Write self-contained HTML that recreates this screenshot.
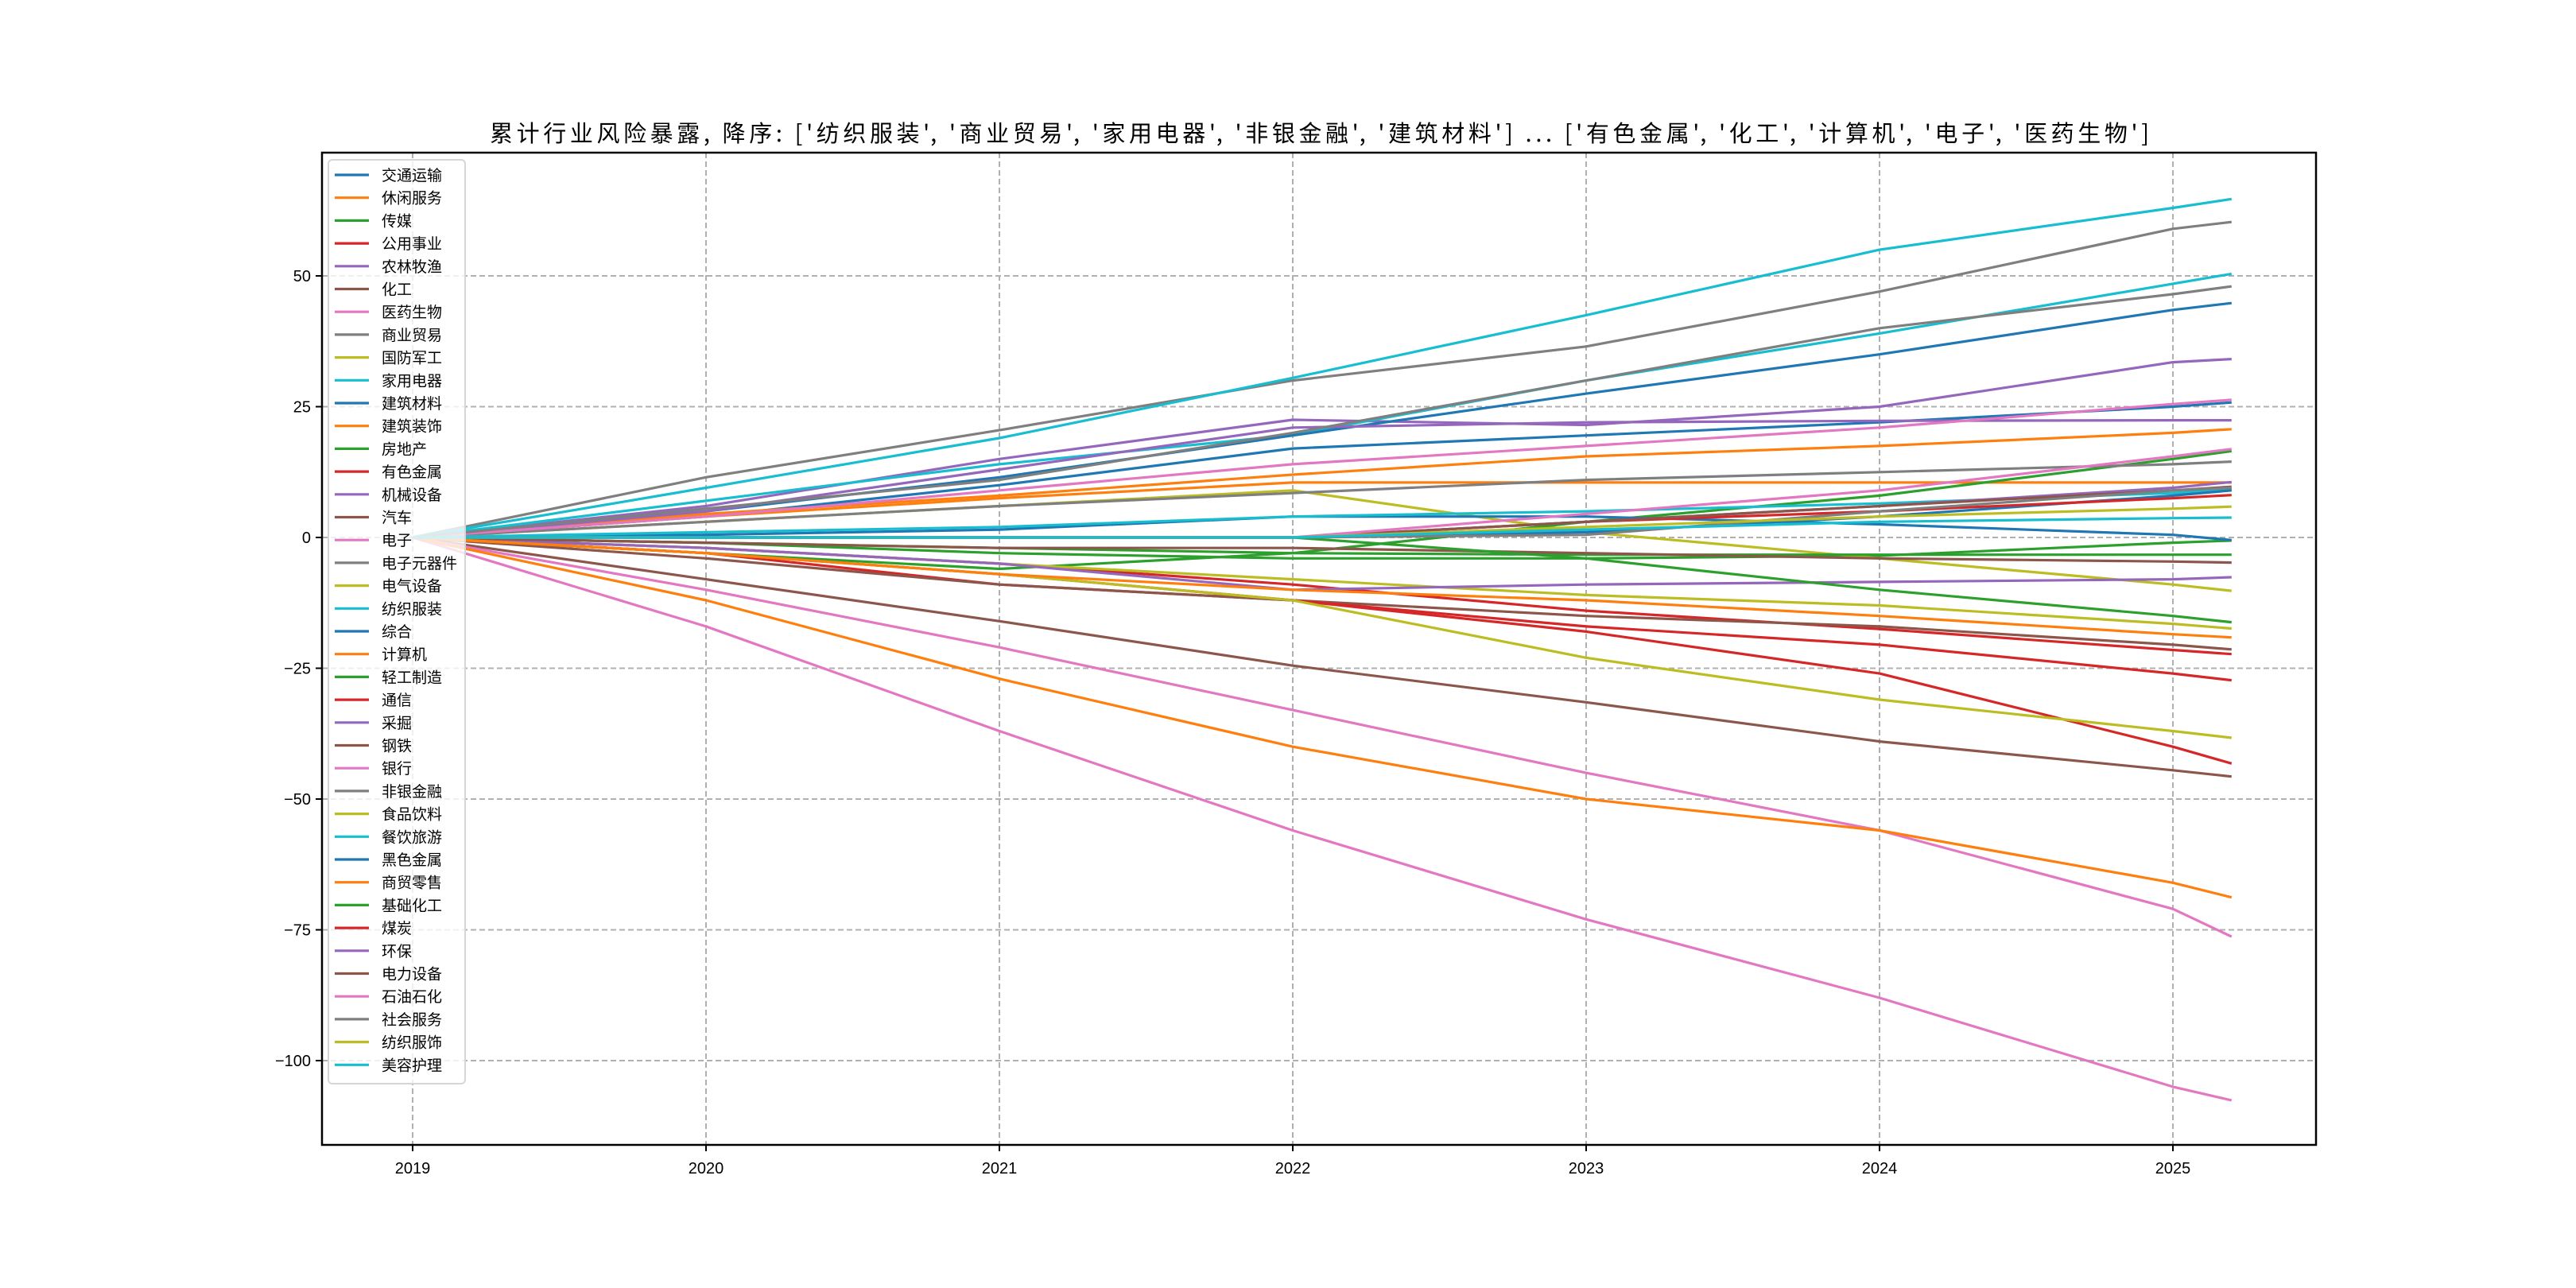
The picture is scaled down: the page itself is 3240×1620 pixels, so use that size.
<!DOCTYPE html>
<html><head><meta charset="utf-8">
<style>
html,body{margin:0;padding:0;background:#fff;}
svg{display:block;font-family:"Liberation Sans","Noto Sans CJK SC",sans-serif;}
</style></head>
<body>
<svg id="chart" width="3240" height="1620" viewBox="0 0 3240 1620" xmlns="http://www.w3.org/2000/svg">
<rect x="0" y="0" width="3240" height="1620" fill="#fff"/>
<text x="616" y="178" text-anchor="start" font-size="29" fill="#000" textLength="2087" lengthAdjust="spacing" font-family="'Noto Sans CJK SC',sans-serif">累计行业风险暴露, 降序: ['纺织服装', '商业贸易', '家用电器', '非银金融', '建筑材料'] ... ['有色金属', '化工', '计算机', '电子', '医药生物']</text>
<g id="grid"></g>
<g id="series"></g>
<g id="axes"></g>
<g id="legend"></g>
</svg>
<script>
const years = [2019, 2020, 2021, 2022, 2023, 2024, 2025, 2025.2];
const names = ['交通运输','休闲服务','传媒','公用事业','农林牧渔','化工','医药生物','商业贸易','国防军工','家用电器','建筑材料','建筑装饰','房地产','有色金属','机械设备','汽车','电子','电子元器件','电气设备','纺织服装','综合','计算机','轻工制造','通信','采掘','钢铁','银行','非银金融','食品饮料','餐饮旅游','黑色金属','商贸零售','基础化工','煤炭','环保','电力设备','石油石化','社会服务','纺织服饰','美容护理'];
const v_jtys = [0, 4, 10, 17, 19.5, 22, 25, 25.8];
const v_xxfw = [0, 4, 7.5, 10.5, 10.5, 10.5, 10.5, 10.5];
const v_cm = [0, -1, -3, -4, -4, -3.5, -1, -0.6];
const v_gysy = [0, -2, -5, -9, -14, -17.5, -21.5, -22.3];
const v_nlmy = [0, 6, 15, 22.5, 21.5, 25, 33.5, 34.1];
const v_hg = [0, -8, -16, -24.5, -31.5, -39, -44.5, -45.7];
const v_yysw = [0, -17, -37, -56, -73, -88, -105, -107.6];
const v_syMy = [0, 11.5, 20.5, 30, 36.5, 47, 59, 60.3];
const v_gfjg = [0, 3, 6, 9, 1, -4, -9, -10.2];
const v_jydq = [0, 7, 14, 19.6, 30, 39, 48.5, 50.4];
const v_jzcl = [0, 5, 11.5, 19.5, 27.5, 35, 43.5, 44.8];
const v_jzzs = [0, 4.5, 8, 12, 15.5, 17.5, 20, 20.7];
const v_fdc = [0, -3, -6, -3, 3, 8, 15, 16.5];
const v_ysjs = [0, -3, -9, -12, -18, -26, -40, -43.2];
const v_jxsb = [0, 5, 13, 21, 22, 22.3, 22.4, 22.4];
const v_qc = [0, -4, -9, -12, -15, -17, -20.5, -21.4];
const v_dz = [0, -10, -21, -33, -45, -56, -71, -76.3];
const v_dzyqj = [0, 3, 6, 8.5, 11, 12.5, 14, 14.5];
const v_dqsb = [0, -2, -5, -8, -11, -13, -16.5, -17.4];
const v_fzfz = [0, 9.5, 19, 30.5, 42.5, 55, 63, 64.7];
const v_zh = [0, 0.5, 1.5, 4, 4, 2.5, 0.5, -0.5];
const v_jsj = [0, -12, -27, -40, -50, -56, -66, -68.8];
const v_qgzz = [0, -1, -2, -3, -3.3, -3.3, -3.3, -3.3];
const v_tx = [0, -3, -7, -12, -17, -20.5, -26, -27.3];
const v_cj = [0, -2, -5, -10, -9, -8.5, -8, -7.6];
const v_gt = [0, -1, -2, -2, -3, -4, -4.6, -4.8];
const v_yh = [0, 4, 9, 14, 17.5, 21, 25.5, 26.3];
const v_fyjr = [0, 5.5, 11, 20, 30, 40, 46.5, 48];
const v_spyl = [0, -3, -7, -12, -23, -31, -37, -38.3];
const v_cyly = [0, 1, 2, 4, 5, 6.5, 8.5, 9.2];
const v_hsjs = [0, 0, 0, 0, 1, 4, 8, 9];
const v_smls = [0, -3, -7, -10, -12, -15, -18.5, -19.1];
const v_jchg = [0, 0, 0, 0, -4, -10, -15, -16.2];
const v_mt = [0, 0, 0, 0, 3, 5, 7.5, 8.1];
const v_hb = [0, 0, 0, 0, 3, 6, 9.5, 10.6];
const v_dlsb = [0, 0, 0, 0, 3, 6, 9, 9.7];
const v_sysh = [0, 0, 0, 0, 4.5, 9, 15.5, 16.9];
const v_shfw = [0, 0, 0, 0, 0.5, 5, 9, 9.5];
const v_fzfs = [0, 0, 0, 0, 2, 4, 5.5, 5.9];
const v_mrhl = [0, 0, 0, 0, 1.5, 3, 3.7, 3.8];
const seriesValues = [v_jtys,v_xxfw,v_cm,v_gysy,v_nlmy,v_hg,v_yysw,v_syMy,v_gfjg,v_jydq,v_jzcl,v_jzzs,v_fdc,v_ysjs,v_jxsb,v_qc,v_dz,v_dzyqj,v_dqsb,v_fzfz,v_zh,v_jsj,v_qgzz,v_tx,v_cj,v_gt,v_yh,v_fyjr,v_spyl,v_cyly,v_hsjs,v_smls,v_jchg,v_mt,v_hb,v_dlsb,v_sysh,v_shfw,v_fzfs,v_mrhl];
const yTicks = [50, 25, 0, -25, -50, -75, -100];
const xTicks = [2019, 2020, 2021, 2022, 2023, 2024, 2025];
const colors = ['#1f77b4','#ff7f0e','#2ca02c','#d62728','#9467bd','#8c564b','#e377c2','#7f7f7f','#bcbd22','#17becf'];

const L=405, R=2913, T=192, B=1440;
function xs(t){ return 519 + (t-2019)*369; }
function ys(v){ return 676 - v*6.58; }
const NS='http://www.w3.org/2000/svg';
function mk(tag, attrs, parent){ const e=document.createElementNS(NS,tag); for(const k in attrs) e.setAttribute(k, attrs[k]); parent.appendChild(e); return e; }

const grid=document.getElementById('grid');
xTicks.forEach(t=>{
  const l=mk('line',{x1:xs(t),x2:xs(t),y1:T,y2:B,stroke:'#b0b0b0','stroke-width':2,'stroke-dasharray':'7,4'},grid);
  
  
});
yTicks.forEach(v=>{
  const l=mk('line',{x1:L,x2:R,y1:ys(v),y2:ys(v),stroke:'#b0b0b0','stroke-width':2,'stroke-dasharray':'7,4'},grid);
  
  
});

const sg=document.getElementById('series');
seriesValues.forEach((vals,i)=>{
  const pts=vals.map((v,j)=>xs(years[j]).toFixed(1)+','+ys(v).toFixed(1)).join(' ');
  const p=mk('polyline',{points:pts,fill:'none',stroke:colors[i%10],'stroke-width':3.2,'stroke-linejoin':'round'},sg);
  
  
});

const ax=document.getElementById('axes');
const frame=mk('rect',{x:L,y:T,width:R-L,height:B-T,fill:'none',stroke:'#000','stroke-width':2.5},ax);


xTicks.forEach(t=>{
  mk('line',{x1:xs(t),x2:xs(t),y1:B,y2:B+8,stroke:'#000','stroke-width':2},ax);
  const tx=mk('text',{x:xs(t),y:B+36,'text-anchor':'middle','font-size':20,fill:'#000'},ax);
  tx.textContent=t;
  
  
});
yTicks.forEach(v=>{
  mk('line',{x1:L-8,x2:L,y1:ys(v),y2:ys(v),stroke:'#000','stroke-width':2},ax);
  const tx=mk('text',{x:L-14,y:ys(v)+7,'text-anchor':'end','font-size':20,fill:'#000'},ax);
  tx.textContent=(v<0?'\u2212'+Math.abs(v):String(v));
  
  
});

const lg=document.getElementById('legend');
const box=mk('rect',{x:413,y:201,width:172,height:1162,rx:5,fill:'rgba(255,255,255,0.8)',stroke:'#d6d6d6','stroke-width':2},lg);


names.forEach((n,i)=>{
  const y=220+i*28.7;
  const l=mk('line',{x1:421,x2:464,y1:y,y2:y,stroke:colors[i%10],'stroke-width':3.2},lg);
  
  
  const tx=mk('text',{x:480,y:y+7,'font-size':19,fill:'#000'},lg);
  tx.textContent=n;
  
  
});
</script>
</body></html>
